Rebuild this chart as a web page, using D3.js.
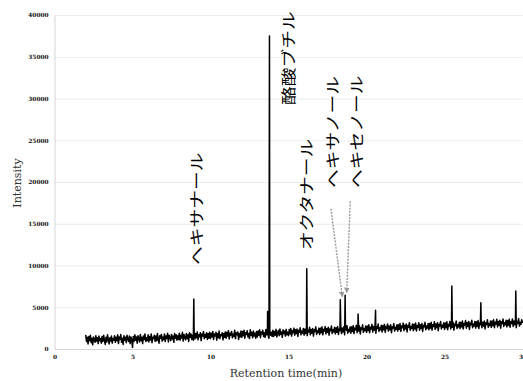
<!DOCTYPE html>
<html>
<head>
<meta charset="utf-8">
<script src="https://cdn.jsdelivr.net/npm/d3@7"></script>
<style>
  body { margin: 0; background: #fff; }
  svg { display: block; }
</style>
</head>
<body>
<svg id="chart" width="523" height="381"></svg>
<script>
// Chromatogram: detector trace sampled every 0.05 min from 2.0 min (one row per minute)
const startTime = 2.0;
const sampleStep = 0.05;
const baseline = [
  1700, 900, 1400, 600, 1500, 1000, 1650, 750, 1300, 500, 1450, 1100, 800, 1600, 950, 1350, 650, 1550, 1000, 1250,
  700, 1500, 900, 1650, 1050, 550, 1400, 850, 1700, 1150, 600, 1350, 950, 1550, 700, 1250, 1050, 1600, 800, 1400,
  1000, 1700, 650, 1450, 1150, 1750, 800, 1300, 550, 1600, 1050, 1400, 750, 1650, 1200, 900, 1550, 650, 1450, 1100,
  200, 1500, 900, 1700, 1050, 1450, 700, 1600, 1250, 850, 1750, 1000, 1400, 650, 1550, 1150, 1800, 900, 1350, 1000,
  1700, 850, 1500, 1100, 1800, 750, 1400, 1250, 1650, 900, 1550, 1000, 1850, 1150, 700, 1600, 1300, 1750, 950, 1450,
  1100, 1800, 900, 1550, 1250, 1900, 850, 1650, 1350, 1000, 1750, 1200, 1550, 800, 1850, 1300, 1700, 1050, 1600, 1150,
  1900, 1050, 1650, 1300, 2000, 950, 1750, 1450, 1100, 1850, 1250, 1700, 900, 1950, 1400, 1800, 1150, 1650, 1050, 1900,
  1200, 1850, 1350, 2050, 1100, 1700, 1450, 1950, 1000, 1800, 1550, 2100, 1250, 1750, 1400, 1950, 1150, 1850, 1300, 2000,
  1250, 1900, 1450, 2100, 1150, 1800, 1550, 2000, 1050, 1850, 1350, 2150, 1250, 1700, 1600, 1950, 1100, 1850, 1400, 2050,
  1300, 2000, 1550, 2200, 1200, 1900, 1650, 2100, 1350, 1800, 1500, 2250, 1250, 1950, 1700, 2050, 1150, 1850, 1450, 2150,
  1400, 2100, 1600, 2250, 1300, 1950, 1750, 2200, 1450, 1850, 1250, 2300, 1650, 2000, 1350, 2150, 1550, 1900, 1300, 2100,
  1450, 2150, 1650, 2300, 1350, 2050, 1800, 2250, 1500, 1950, 1400, 2350, 1700, 2100, 1550, 1300, 2200, 1650, 2000, 1500,
  2250, 1500, 2100, 1650, 2350, 1450, 1950, 2200, 1600, 2400, 1750, 2050, 1400, 2300, 1850, 2150, 1550, 2350, 1700, 2000,
  1600, 2350, 1800, 2450, 1550, 2200, 1950, 2500, 1650, 2300, 1850, 2400, 1500, 2250, 2000, 2550, 1700, 2150, 1900, 2450,
  1650, 2400, 1850, 2500, 1600, 2250, 2050, 2600, 1700, 2350, 1900, 2450, 1550, 2300, 2100, 2650, 1750, 2200, 1950, 2500,
  1750, 2500, 1950, 2650, 1700, 2350, 2150, 2700, 1800, 2450, 2000, 2600, 1650, 2400, 2200, 2750, 1850, 2300, 2050, 2600,
  1800, 2550, 2000, 2700, 1750, 2400, 2200, 2750, 1850, 2500, 2050, 2650, 1700, 2450, 2250, 2800, 1900, 2350, 2100, 2650,
  1900, 2650, 2100, 2800, 1850, 2500, 2300, 2850, 1950, 2600, 2150, 2750, 1800, 2550, 2350, 2900, 2000, 2450, 2200, 2750,
  2000, 2750, 2200, 2900, 1950, 2600, 2400, 2950, 2050, 2700, 2250, 2850, 1900, 2650, 2450, 3000, 2100, 2550, 2300, 2850,
  2050, 2800, 2300, 2950, 2000, 2700, 2450, 3000, 2150, 2750, 2300, 2900, 1950, 2650, 2500, 3050, 2150, 2600, 2350, 2900,
  2150, 2900, 2350, 3050, 2100, 2750, 2550, 3100, 2200, 2850, 2400, 3000, 2050, 2800, 2600, 3150, 2250, 2700, 2450, 3000,
  2200, 2950, 2400, 3100, 2150, 2800, 2600, 3150, 2250, 2900, 2450, 3050, 2100, 2850, 2650, 3200, 2300, 2750, 2500, 3050,
  2300, 3050, 2500, 3200, 2250, 2900, 2700, 3250, 2350, 3000, 2550, 3150, 2200, 2950, 2750, 3300, 2400, 2850, 2600, 3150,
  2350, 3100, 2550, 3250, 2300, 2950, 2750, 3300, 2400, 3050, 2600, 3200, 2250, 3000, 2800, 3350, 2450, 2900, 2650, 3200,
  2450, 3200, 2650, 3350, 2400, 3050, 2850, 3400, 2500, 3150, 2700, 3300, 2350, 3100, 2900, 3450, 2550, 3000, 2750, 3300,
  2500, 3250, 2700, 3400, 2450, 3100, 2900, 3450, 2550, 3200, 2750, 3350, 2400, 3150, 2950, 3500, 2600, 3050, 2800, 3350,
  2600, 3350, 2800, 3500, 2550, 3200, 3000, 3550, 2650, 3300, 2850, 3450, 2500, 3250, 3050, 3600, 2700, 3150, 2900, 3450,
  2650, 3400, 2850, 3550, 2600, 3250, 3050, 3600, 2700, 3350, 2900, 3500, 2550, 3300, 3100, 3650, 2750, 3200, 2950, 3500,
  3100
];

// Peak apexes (retention time in min, intensity)
const peakTimes   = [8.93, 13.66, 13.78, 16.17, 18.32, 18.63, 19.46, 20.58, 25.47, 27.33, 29.57];
const peakHeights = [6000, 4500, 37500, 9600, 5900, 6450, 4200, 4650, 7550, 5550, 6950];

// Axis ticks
const yTicks = [0, 5000, 10000, 15000, 20000, 25000, 30000, 35000, 40000];
const xTicks = [0, 5, 10, 15, 20, 25, 30];

// Compound annotations (label start point in data units)
const compoundNames = ["ヘキサナール", "酪酸ブチル", "オクタナール", "ヘキサノール", "ヘキセノール"];
const labelTimes = [9.04, 14.9, 16.09, 17.72, 19.26];
const labelIntensities = [10060, 29220, 11860, 19280, 19280];

// Dashed leader lines to the two alcohol peaks
const leaderStartTimes = [17.72, 18.96];
const leaderStartIntensities = [16800, 17700];
const leaderEndTimes = [18.45, 18.73];
const leaderEndIntensities = [6300, 6800];

const svg = d3.select("#chart");
const W = 523, H = 381;
const margin = { left: 54.5, right: 0.5, top: 15, bottom: 32 };

const x = d3.scaleLinear().domain([0, 30]).range([margin.left, W - margin.right]);
const y = d3.scaleLinear().domain([0, 40000]).range([H - margin.bottom, margin.top]);

svg.append("rect").attr("width", W).attr("height", H).attr("fill", "#fff");

// Horizontal gridlines
const grid = svg.append("g")
  .attr("transform", `translate(${margin.left},0)`)
  .call(d3.axisLeft(y).tickValues(yTicks.slice(1)).tickSize(-(x.range()[1] - margin.left)).tickFormat(""));
grid.select(".domain").remove();
grid.selectAll("line").attr("stroke", "#ececec").attr("stroke-width", 1);

// Y axis
const yAxis = svg.append("g")
  .attr("transform", `translate(${margin.left},0)`)
  .call(d3.axisLeft(y).tickValues(yTicks).tickSize(0).tickPadding(6).tickFormat(d3.format("d")));
yAxis.select(".domain").attr("stroke", "#d6d6d6");
yAxis.selectAll("text")
  .attr("font-family", "'DejaVu Serif', serif")
  .attr("font-size", 5.8).attr("font-weight", "bold").attr("fill", "#111");

// X axis
const xAxis = svg.append("g")
  .attr("transform", `translate(0,${y(0)})`)
  .call(d3.axisBottom(x).tickValues(xTicks).tickSize(0).tickPadding(6).tickFormat(d3.format("d")));
xAxis.select(".domain").attr("stroke", "#d6d6d6");
xAxis.selectAll("text")
  .attr("font-family", "'DejaVu Serif', serif")
  .attr("font-size", 5.8).attr("font-weight", "bold").attr("fill", "#111");

// Axis titles
svg.append("text")
  .attr("transform", "translate(21,183) rotate(-90)")
  .attr("text-anchor", "middle")
  .attr("font-family", "'DejaVu Serif', serif")
  .attr("font-size", 11).attr("fill", "#333")
  .text("Intensity");

svg.append("text")
  .attr("x", 286).attr("y", 377)
  .attr("text-anchor", "middle")
  .attr("font-family", "'DejaVu Serif', serif")
  .attr("font-size", 11).attr("fill", "#333")
  .text("Retention time(min)");

// Trace: baseline samples merged with peak apexes, ordered by time
const samples = baseline.map((v, i) => ({ t: startTime + i * sampleStep, v }));
peakTimes.forEach((t, i) => samples.push({ t, v: peakHeights[i] }));
samples.sort((a, b) => a.t - b.t);

svg.append("path")
  .datum(samples)
  .attr("fill", "none")
  .attr("stroke", "#000")
  .attr("stroke-width", 1.5)
  .attr("stroke-linejoin", "round")
  .attr("d", d3.line().x(d => x(d.t)).y(d => y(d.v)));

// Leader lines with small arrowheads
svg.append("defs").append("marker")
  .attr("id", "tip").attr("viewBox", "0 0 6 6")
  .attr("refX", 5).attr("refY", 3)
  .attr("markerWidth", 4).attr("markerHeight", 4)
  .attr("orient", "auto")
  .append("path").attr("d", "M0,0 L6,3 L0,6 Z").attr("fill", "#999");

leaderStartTimes.forEach((t, i) => {
  svg.append("line")
    .attr("x1", x(t)).attr("y1", y(leaderStartIntensities[i]))
    .attr("x2", x(leaderEndTimes[i])).attr("y2", y(leaderEndIntensities[i]))
    .attr("stroke", "#9a9a9a").attr("stroke-width", 1.4)
    .attr("stroke-dasharray", "2,1.2")
    .attr("marker-end", "url(#tip)");
});

// Vertical compound labels
compoundNames.forEach((name, i) => {
  svg.append("text")
    .attr("transform", `translate(${x(labelTimes[i])},${y(labelIntensities[i])}) rotate(-90) scale(1.25,1)`)
    .attr("text-anchor", "start")
    .attr("dominant-baseline", "central")
    .attr("font-family", "'Noto Sans CJK JP', sans-serif")
    .attr("font-size", 15).attr("fill", "#000")
    .text(name);
});
</script>
</body>
</html>
